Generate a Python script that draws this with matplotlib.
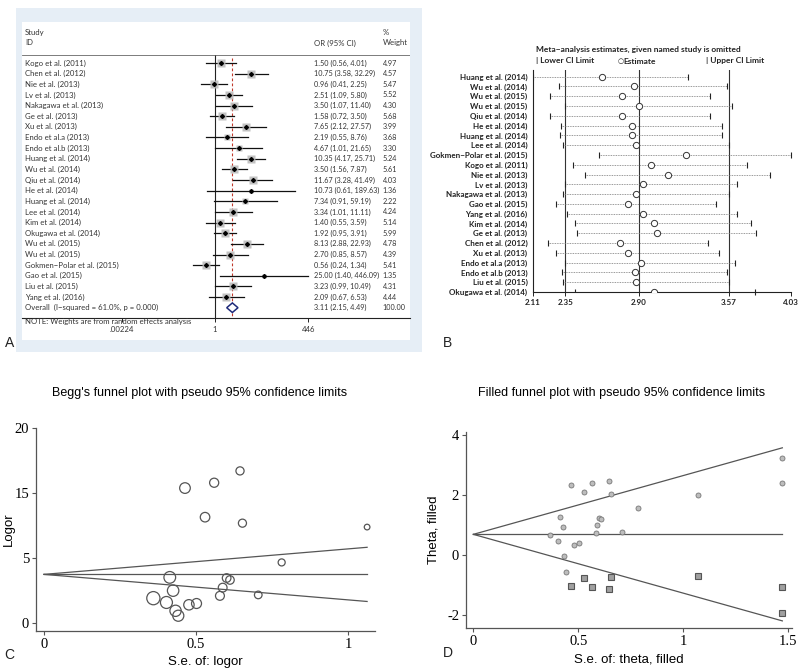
import numpy as np
import matplotlib
matplotlib.use("Agg")
import matplotlib.pyplot as plt
from matplotlib.patches import Rectangle
from matplotlib.transforms import blended_transform_factory

plt.rcParams['axes.unicode_minus'] = False

# ---- panel A: forest plot data ----
studies = ["Kogo et al. (2011)", "Chen et al. (2012)", "Nie et al. (2013)", "Lv et al. (2013)",
           "Nakagawa et al. (2013)", "Ge et al. (2013)", "Xu et al. (2013)", "Endo et al.a (2013)",
           "Endo et al.b (2013)", "Huang et al. (2014)", "Wu et al. (2014)", "Qiu et al. (2014)",
           "He et al. (2014)", "Huang et al. (2014)", "Lee et al. (2014)", "Kim et al. (2014)",
           "Okugawa et al. (2014)", "Wu et al. (2015)", "Wu et al. (2015)", "Gokmen\u2212Polar et al. (2015)",
           "Gao et al. (2015)", "Liu et al. (2015)", "Yang et al. (2016)"]
or_est = [1.50, 10.75, 0.96, 2.51, 3.50, 1.58, 7.65, 2.19, 4.67, 10.35, 3.50, 11.67,
          10.73, 7.34, 3.34, 1.40, 1.92, 8.13, 2.70, 0.56, 25.00, 3.23, 2.09]
or_lo = [0.56, 3.58, 0.41, 1.09, 1.07, 0.72, 2.12, 0.55, 1.01, 4.17, 1.56, 3.28,
         0.61, 0.91, 1.01, 0.55, 0.95, 2.88, 0.85, 0.24, 1.40, 0.99, 0.67]
or_hi = [4.01, 32.29, 2.25, 5.80, 11.40, 3.50, 27.57, 8.76, 21.65, 25.71, 7.87, 41.49,
         189.63, 59.19, 11.11, 3.59, 3.91, 22.93, 8.57, 1.34, 446.09, 10.49, 6.53]
weights = [4.97, 4.57, 5.47, 5.52, 4.30, 5.68, 3.99, 3.68, 3.30, 5.24, 5.61, 4.03,
           1.36, 2.22, 4.24, 5.14, 5.99, 4.78, 4.39, 5.41, 1.35, 4.31, 4.44]
overall = (3.11, 2.15, 4.49)
forest_ticks = [0.00224, 1, 446]
forest_ticklabels = [".00224", "1", "446"]

# ---- panel B: influence analysis ----
inf_names = ["Huang et al. (2014)", "Wu et al. (2014)", "Wu et al. (2015)", "Wu et al. (2015)",
             "Qiu et al. (2014)", "He et al. (2014)", "Huang et al. (2014)", "Lee et al. (2014)",
             "Gokmen\u2212Polar et al. (2015)", "Kogo et al. (2011)", "Nie et al. (2013)", "Lv et al. (2013)",
             "Nakagawa et al. (2013)", "Gao et al. (2015)", "Yang et al. (2016)", "Kim et al. (2014)",
             "Ge et al. (2013)", "Chen et al. (2012)", "Xu et al. (2013)", "Endo et al.a (2013)",
             "Endo et al.b (2013)", "Liu et al. (2015)", "Okugawa et al. (2014)"]
inf_lo = [2.11, 2.30, 2.24, 2.345, 2.24, 2.315, 2.31, 2.33, 2.60, 2.41, 2.50, 2.35,
          2.33, 2.28, 2.36, 2.42, 2.44, 2.225, 2.28, 2.35, 2.325, 2.33, 2.42]
inf_est = [2.625, 2.86, 2.77, 2.90, 2.77, 2.85, 2.85, 2.88, 3.245, 2.99, 3.115, 2.925,
           2.88, 2.815, 2.93, 3.01, 3.03, 2.76, 2.82, 2.915, 2.87, 2.88, 3.01]
inf_hi = [3.26, 3.55, 3.43, 3.59, 3.43, 3.52, 3.52, 3.57, 4.03, 3.70, 3.875, 3.63,
          3.565, 3.475, 3.625, 3.73, 3.77, 3.41, 3.495, 3.61, 3.55, 3.57, 3.76]
inf_ref = [2.35, 2.90, 3.57]
inf_ticks = [2.11, 2.35, 2.90, 3.57, 4.03]

# ---- panel C: Begg's funnel ----
begg_se = [0.645, 0.56, 0.464, 0.53, 0.653, 1.063, 0.782, 0.414, 0.601, 0.612,
           0.425, 0.588, 0.36, 0.579, 0.705, 0.403, 0.477, 0.502, 0.433, 0.442]
begg_y = [11.7, 10.79, 10.38, 8.14, 7.68, 7.38, 4.66, 3.51, 3.46, 3.31,
          2.49, 2.72, 1.91, 2.09, 2.16, 1.58, 1.40, 1.50, 0.94, 0.56]
begg_center = 3.74
begg_yticks = [0, 5, 10, 15]
begg_yticklabels = ["0", "5", "15", "20"]

# ---- panel D: filled funnel ----
obs_se = [0.465, 0.563, 0.648, 0.529, 0.656, 1.068, 1.471, 1.470, 0.783, 0.414, 0.60,
          0.61, 0.427, 0.589, 0.583, 0.71, 0.363, 0.405, 0.478, 0.503, 0.433, 0.443]
obs_theta = [2.33, 2.39, 2.47, 2.11, 2.03, 2.0, 3.24, 2.39, 1.56, 1.26, 1.22,
             1.2, 0.92, 1.0, 0.74, 0.78, 0.67, 0.47, 0.33, 0.41, -0.03, -0.58]
fill_se = [0.465, 0.529, 0.563, 0.648, 0.656, 1.068, 1.47, 1.471]
fill_theta = [-1.03, -0.78, -1.06, -1.14, -0.72, -0.69, -1.06, -1.92]
filled_center = 0.69

W, H = 800, 670


def px(l, t, r, b):
    return [l / W, 1 - b / H, (r - l) / W, (b - t) / H]


def box(fig, l, t, r, b, color):
    fig.add_artist(Rectangle((l / W, 1 - b / H), (r - l) / W, (b - t) / H,
                             transform=fig.transFigure, facecolor=color, edgecolor='none', zorder=0))


fig = plt.figure(figsize=(8, 6.7), dpi=100)

# ================= A =================
box(fig, 16, 8, 422, 352, '#e6eef6')
box(fig, 22, 22, 410, 340, 'white')
fa = ['Lato', 'DejaVu Sans']
tc = '#333333'
fs = 5.6
fso = 5.25  # OR column a touch smaller so it stays clear of the weights
axA = fig.add_axes(px(22, 22, 410, 318))
axA.set_facecolor('none')
k = 15.3
axA.set_xscale('log')
axA.set_xlim(np.exp((22 - 215) / k), np.exp((410 - 215) / k))
nrow = len(studies)
rows = np.arange(1, nrow + 1)
ybot = 1 + (318 - 63) / 10.64
axA.set_ylim(ybot, 1 + (22 - 63) / 10.64)
for s in ['top', 'left', 'right']:
    axA.spines[s].set_visible(False)
axA.spines['bottom'].set_linewidth(0.8)
axA.spines['bottom'].set_color('#222222')
axA.set_yticks([])
axA.set_xticks(forest_ticks)
axA.set_xticklabels(forest_ticklabels, family=fa, fontsize=fs, color=tc)
axA.xaxis.set_minor_locator(matplotlib.ticker.NullLocator())
axA.tick_params(axis='x', length=3, width=0.6, pad=3)

axA.axhline(0.25, color='#666666', lw=0.6)
axA.vlines(1, 0.25, ybot, color='#222222', lw=0.8)
axA.vlines(overall[0], 0.5, ybot, color='#c0392b', lw=0.8, linestyles=(0, (2.5, 2)))
for i in range(nrow):
    axA.plot([or_lo[i], or_hi[i]], [rows[i], rows[i]], color='#111111', lw=0.9)
    side = 0.72 * 3.6 * np.sqrt(weights[i])
    axA.plot(or_est[i], rows[i], 's', ms=side, mfc='#b8b8b8', mec='none', alpha=0.85)
    axA.plot(or_est[i], rows[i], 'D', ms=2, color='black')
ro = nrow + 1
axA.fill([overall[1], overall[0], overall[2], overall[0]], [ro, ro - 0.45, ro, ro + 0.45],
         facecolor='white', edgecolor='#1f2a7a', lw=1.1, zorder=5)

tr = blended_transform_factory(axA.transAxes, axA.transData)
xn, xo, xw = 0.008, 0.753, 0.93
axA.text(xn, -1.82, "Study", transform=tr, family=fa, fontsize=fs, color=tc, va='center')
axA.text(xn, -0.88, "ID", transform=tr, family=fa, fontsize=fs, color=tc, va='center')
axA.text(xo, -0.88, "OR (95% CI)", transform=tr, family=fa, fontsize=fs, color=tc, va='center')
axA.text(xw, -1.82, "%", transform=tr, family=fa, fontsize=fs, color=tc, va='center')
axA.text(xw, -0.88, "Weight", transform=tr, family=fa, fontsize=fs, color=tc, va='center')
for i in range(nrow):
    axA.text(xn, rows[i], studies[i], transform=tr, family=fa, fontsize=fs, color=tc, va='center')
    axA.text(xo, rows[i], "%.2f (%.2f, %.2f)" % (or_est[i], or_lo[i], or_hi[i]),
             transform=tr, family=fa, fontsize=fso, color=tc, va='center')
    axA.text(xw, rows[i], "%.2f" % weights[i], transform=tr, family=fa, fontsize=fso, color=tc, va='center')
axA.text(xn, ro, "Overall  (I\u2212squared = 61.0%, p = 0.000)", transform=tr, family=fa,
         fontsize=fs, color=tc, va='center')
axA.text(xo, ro, "%.2f (%.2f, %.2f)" % overall, transform=tr, family=fa, fontsize=fso, color=tc, va='center')
axA.text(xw, ro, "100.00", transform=tr, family=fa, fontsize=fso, color=tc, va='center')
axA.text(xn, ro + 1.3, "NOTE: Weights are from random effects analysis", transform=tr, family=fa,
         fontsize=fs, color=tc, va='center')

# ================= B =================
axB = fig.add_axes(px(533, 70, 791, 292))
nb = len(inf_names)
rb = np.arange(1, nb + 1)
axB.set_xlim(inf_ticks[0], inf_ticks[-1])
axB.set_ylim(1 + (292 - 76.7) / 9.87, 1 + (70 - 76.7) / 9.87)
for s in ['top', 'right']:
    axB.spines[s].set_visible(False)
for s in ['left', 'bottom']:
    axB.spines[s].set_linewidth(0.8)
    axB.spines[s].set_color('#222222')
for v in inf_ref:
    axB.axvline(v, color='#333333', lw=0.8)
axB.hlines(rb, inf_lo, inf_hi, color='#777777', lw=0.6, linestyles=(0, (1, 1)))
axB.plot(inf_lo, rb, '|', ms=5, mew=0.8, color='#222222', ls='none')
axB.plot(inf_hi, rb, '|', ms=5, mew=0.8, color='#222222', ls='none', clip_on=False)
axB.plot(inf_est, rb, 'o', ms=4.5, mfc='white', mec='#333333', mew=0.7, ls='none', zorder=4)
axB.set_yticks(rb)
axB.set_yticklabels(inf_names, family=fa, fontsize=5.8, fontweight='bold', color='#222222')
axB.tick_params(axis='y', length=0, pad=4)
axB.set_xticks(inf_ticks)
axB.set_xticklabels(["%.2f" % v for v in inf_ticks], family=fa, fontsize=5.8, fontweight='bold',
                    color='#222222')
axB.tick_params(axis='x', length=3, width=0.6, pad=2)
fig.text(536 / W, 1 - 49 / H, "Meta\u2212analysis estimates, given named study is omitted", family=fa,
         fontsize=6, fontweight='bold', color='#222222', va='center')
fig.text(536 / W, 1 - 61 / H, "| Lower CI Limit", family=fa, fontsize=6, fontweight='bold',
         color='#222222', va='center')
fig.text(618 / W, 1 - 61 / H, "\u25cb", family=['DejaVu Sans'], fontsize=5,
         color='#222222', va='center')
fig.text(623 / W, 1 - 61 / H, "Estimate", family=fa, fontsize=6, fontweight='bold',
         color='#222222', va='center')
fig.text(706 / W, 1 - 61 / H, "| Upper CI Limit", family=fa, fontsize=6, fontweight='bold',
         color='#222222', va='center')

# ================= C / D (Stata funnel plots) =================
serif = 'Liberation Serif'
sans = 'Liberation Sans'
lc = '#555555'


def stata_axes(ax):
    for s in ['top', 'right']:
        ax.spines[s].set_visible(False)
    for s in ['left', 'bottom']:
        ax.spines[s].set_color(lc)
        ax.spines[s].set_linewidth(0.9)
    ax.tick_params(length=3, width=0.8, color=lc, pad=2, labelsize=10.5)
    for lab in ax.get_xticklabels() + ax.get_yticklabels():
        lab.set_family(serif)


axC = fig.add_axes(px(36, 428, 375, 631))
axC.set_xlim(-0.026, 1.089)
axC.set_ylim(-0.615, 15)
se_arr = np.array(begg_se)
sz = (0.72 * (1.8 + 4.1 / se_arr)) ** 2
axC.scatter(begg_se, begg_y, s=sz, facecolors='none', edgecolors='#555555', linewidths=0.9, zorder=3)
sl = np.array([0, se_arr.max()])
axC.plot(sl, [begg_center, begg_center], color=lc, lw=0.9)
axC.plot(sl, begg_center + 1.96 * sl, color=lc, lw=0.9)
axC.plot(sl, begg_center - 1.96 * sl, color=lc, lw=0.9)
axC.set_xticks([0, 0.5, 1])
axC.set_xticklabels(["0", "0.5", "1"])
axC.set_yticks(begg_yticks)
axC.set_yticklabels(begg_yticklabels)
stata_axes(axC)
axC.set_xlabel("S.e. of: logor", family=sans, fontsize=9.5, labelpad=4)
axC.set_ylabel("Logor", family=sans, fontsize=9.5)
axC.yaxis.set_label_coords((15 - 36) / 339, 0.5)
fig.text(200 / W, 1 - 393 / H, "Begg's funnel plot with pseudo 95% confidence limits", family=sans,
         fontsize=9, ha='center', va='center')

axD = fig.add_axes(px(466, 432, 792, 628))
axD.set_xlim(-0.035, 1.517)
axD.set_ylim(-2.43, 4.1)
sd = np.array([0, max(obs_se)])
axD.plot(sd, [filled_center, filled_center], color=lc, lw=0.9)
axD.plot(sd, filled_center + 1.96 * sd, color=lc, lw=0.9)
axD.plot(sd, filled_center - 1.96 * sd, color=lc, lw=0.9)
axD.plot(obs_se, obs_theta, 'o', ms=3.6, mfc='#bdbdbd', mec='#777777', mew=0.6, ls='none', zorder=3)
axD.plot(fill_se, fill_theta, 's', ms=5, mfc='#a0a0a0', mec='#555555', mew=0.8, ls='none', zorder=3)
axD.set_xticks([0, 0.5, 1, 1.5])
axD.set_xticklabels(["0", "0.5", "1", "1.5"])
axD.set_yticks([-2, 0, 2, 4])
axD.set_yticklabels(["-2", "0", "2", "4"])
stata_axes(axD)
axD.set_xlabel("S.e. of: theta, filled", family=sans, fontsize=9.5, labelpad=4)
axD.set_ylabel("Theta, filled", family=sans, fontsize=9.5)
axD.yaxis.set_label_coords((440 - 466) / 326, 0.5)
fig.text(622 / W, 1 - 393 / H, "Filled funnel plot with pseudo 95% confidence limits", family=sans,
         fontsize=9, ha='center', va='center')

# panel letters
for lab, x, y in [("A", 10, 343), ("B", 447, 343), ("C", 9, 655), ("D", 448, 653)]:
    fig.text(x / W, 1 - y / H, lab, family=sans, fontsize=10, ha='center', va='center', color='#222222')

fig.savefig("out.png", dpi=100)
